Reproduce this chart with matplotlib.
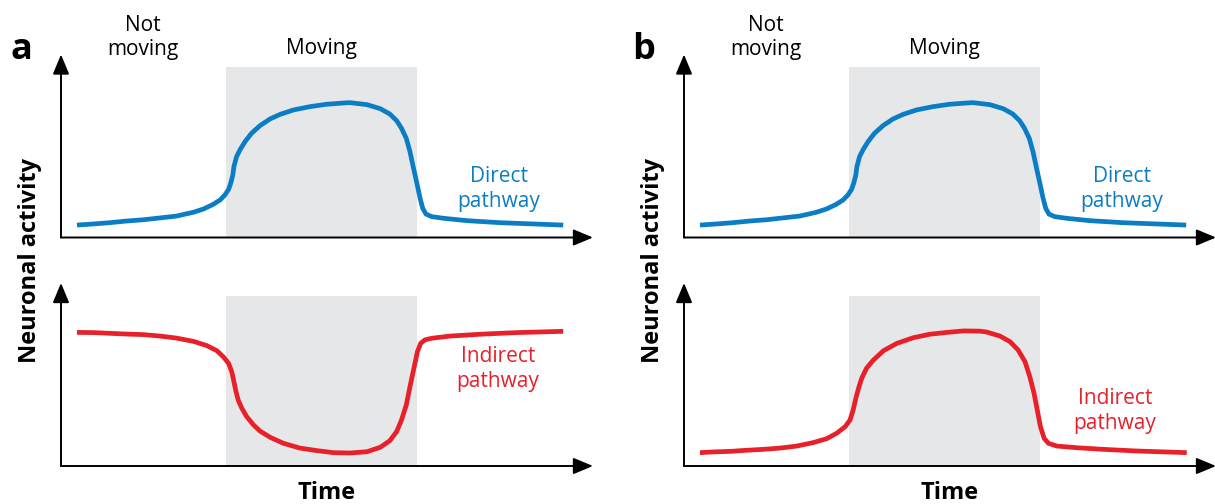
import matplotlib.pyplot as plt

plt.rcParams['font.family'] = ['Open Sans', 'DejaVu Sans']

# time (s) vs. normalised activity
t_direct = [0.30, 0.61, 0.92, 1.23, 1.55, 1.86, 2.17, 2.49, 2.68, 2.86, 2.99, 3.08,
            3.15, 3.19, 3.23, 3.25, 3.30, 3.37, 3.46, 3.58, 3.74, 3.93, 4.12, 4.37,
            4.68, 4.99, 5.31, 5.43, 5.75, 6.00, 6.18, 6.31, 6.40, 6.49, 6.56, 6.62,
            6.69, 6.75, 6.80, 6.86, 6.97, 7.19, 7.63, 8.25, 8.88, 9.44]
direct = [0.068, 0.074, 0.081, 0.090, 0.097, 0.107, 0.117, 0.138, 0.156, 0.181, 0.205, 0.232,
          0.263, 0.296, 0.342, 0.387, 0.442, 0.482, 0.524, 0.569, 0.611, 0.648, 0.673, 0.697,
          0.715, 0.728, 0.735, 0.737, 0.726, 0.704, 0.675, 0.638, 0.597, 0.542, 0.469, 0.387,
          0.296, 0.214, 0.159, 0.128, 0.114, 0.105, 0.092, 0.081, 0.074, 0.068]

# panel a: indirect pathway drops while moving
t_indirect_a = [0.30, 0.61, 0.92, 1.23, 1.55, 1.86, 2.17, 2.49, 2.74, 2.93, 3.05, 3.15,
                3.21, 3.25, 3.29, 3.33, 3.40, 3.49, 3.62, 3.74, 3.93, 4.18, 4.49, 4.81,
                5.12, 5.43, 5.75, 6.00, 6.18, 6.31, 6.40, 6.49, 6.56, 6.64, 6.70, 6.76,
                6.84, 6.97, 7.31, 7.94, 8.57, 9.44]
indirect_a = [0.730, 0.729, 0.725, 0.721, 0.718, 0.710, 0.699, 0.681, 0.658, 0.630, 0.597, 0.561,
              0.515, 0.461, 0.406, 0.361, 0.315, 0.270, 0.224, 0.191, 0.157, 0.124, 0.098, 0.084,
              0.073, 0.071, 0.078, 0.102, 0.138, 0.188, 0.251, 0.333, 0.434, 0.543, 0.625, 0.670,
              0.689, 0.698, 0.710, 0.721, 0.729, 0.736]

# panel b: indirect pathway rises with the direct one
t_indirect_b = [0.30, 0.55, 0.87, 1.18, 1.49, 1.81, 2.12, 2.43, 2.68, 2.87, 3.03, 3.12,
                3.18, 3.23, 3.28, 3.34, 3.43, 3.56, 3.75, 4.00, 4.31, 4.62, 4.94, 5.25,
                5.56, 5.69, 5.94, 6.13, 6.28, 6.41, 6.50, 6.58, 6.64, 6.70, 6.77, 6.85,
                7.01, 7.38, 7.88, 8.51, 9.45]
indirect_b = [0.073, 0.077, 0.080, 0.086, 0.091, 0.098, 0.109, 0.128, 0.149, 0.179, 0.215, 0.251,
              0.306, 0.370, 0.424, 0.479, 0.534, 0.579, 0.630, 0.670, 0.701, 0.720, 0.730, 0.738,
              0.737, 0.732, 0.710, 0.679, 0.634, 0.570, 0.488, 0.397, 0.306, 0.215, 0.151, 0.124,
              0.109, 0.100, 0.091, 0.082, 0.073]

moving_window = (3.1, 6.7)

BLUE = '#0b7dc4'
RED = '#e8202a'
GRAY = '#e6e7e8'

fig = plt.figure(figsize=(12.15, 5.04), dpi=100)

W, H = 1215, 504
AX_W, AX_H = 532 / W, 183 / H


def panel(left, bottom, t, y, color, label, label_xy, header=False):
    ax = fig.add_axes([left, bottom, AX_W, AX_H])
    ax.set_xlim(0, 10)
    ax.set_ylim(0, 1)
    ax.axis('off')
    ax.axvspan(*moving_window, ymax=0.93, color=GRAY, lw=0, zorder=0)
    ax.plot(t, y, color=color, lw=3.4, solid_capstyle='butt',
            solid_joinstyle='round', zorder=3)
    for end in [(1, 0), (0, 1)]:
        ax.annotate('', xy=end, xytext=(0, 0), xycoords='axes fraction',
                    arrowprops=dict(arrowstyle='-|>,head_length=0.6,head_width=0.25',
                                    mutation_scale=20, color='black', lw=1.4,
                                    shrinkA=0, shrinkB=0))
    ax.text(*label_xy, label, color=color, fontsize=15, ha='center',
            va='center', linespacing=1.2)
    if header:
        ax.text(1.54, 1.093, 'Not\nmoving', fontsize=15, ha='center',
                va='center', linespacing=1.15, clip_on=False)
        ax.text(sum(moving_window) / 2, 1.035, 'Moving', fontsize=15,
                ha='center', va='center', clip_on=False)
    return ax


for x0, letter, t_ind, ind, ind_xy in [
        (61, 'a', t_indirect_a, indirect_a, (8.21, 0.53)),
        (684, 'b', t_indirect_b, indirect_b, (8.10, 0.30))]:
    left = x0 / W
    panel(left, 1 - 237.5 / H, t_direct, direct, BLUE,
          'Direct\npathway', (8.23, 0.265), header=True)
    panel(left, 1 - 466 / H, t_ind, ind, RED, 'Indirect\npathway', ind_xy)
    fig.text((x0 - 40) / W, 1 - 50 / H, letter, fontsize=26,
             fontweight='bold', ha='center', va='center')
    fig.text((x0 + 266) / W, 1 - 493 / H, 'Time', fontsize=17,
             fontweight='bold', ha='center', va='center')
    fig.text((x0 - 31) / W, 1 - 260 / H, 'Neuronal activity', fontsize=17,
             fontweight='bold', ha='center', va='center', rotation=90)

fig.savefig('out.png', dpi=100)
